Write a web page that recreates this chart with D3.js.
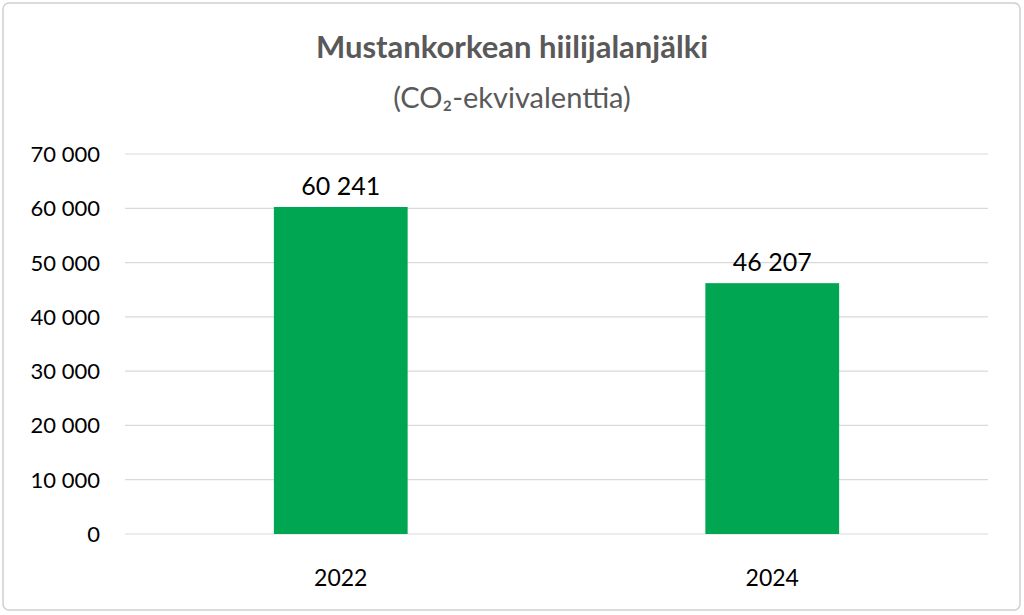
<!DOCTYPE html>
<html><head><meta charset="utf-8">
<script src="https://cdn.jsdelivr.net/npm/d3@7"></script>
<style>body{margin:0;background:#fff}</style>
</head><body>
<svg id="chart" width="1024" height="615"></svg>
<script>
const years = ["2022", "2024"];
const values = [60241, 46207];
const ticks = [0, 10000, 20000, 30000, 40000, 50000, 60000, 70000];

const svg = d3.select("#chart");
const font = "Lato, 'Open Sans', sans-serif";
const fmt = (v) => d3.format(",")(v).replace(/,/g, " ");

svg.append("rect")
  .attr("x", 3).attr("y", 3).attr("width", 1017).attr("height", 607)
  .attr("rx", 6).attr("fill", "#fff").attr("stroke", "#d0d0d0").attr("stroke-width", 1.5);

const x = d3.scaleBand().domain(years).range([125, 988]).paddingInner(0.69).paddingOuter(0.345);
const y = d3.scaleLinear().domain([0, 70000]).range([534, 154]);

svg.append("g").selectAll("line").data(ticks).join("line")
  .attr("x1", 125).attr("x2", 988)
  .attr("y1", (d) => y(d)).attr("y2", (d) => y(d))
  .attr("stroke", "#d9d9d9").attr("stroke-width", 1.2);

svg.append("g").selectAll("text").data(ticks).join("text")
  .attr("x", 100).attr("y", (d) => y(d) + 8)
  .attr("text-anchor", "end").attr("font-family", font).attr("font-size", 22)
  .attr("fill", "#000").text(fmt);

svg.append("g").selectAll("rect").data(values).join("rect")
  .attr("x", (d, i) => x(years[i])).attr("width", x.bandwidth())
  .attr("y", (d) => y(d)).attr("height", (d) => y(0) - y(d))
  .attr("fill", "#00a651");

svg.append("g").selectAll("text").data(values).join("text")
  .attr("x", (d, i) => x(years[i]) + x.bandwidth() / 2).attr("y", (d) => y(d) - 12)
  .attr("text-anchor", "middle").attr("font-family", font).attr("font-size", 25)
  .text(fmt);

svg.append("g").selectAll("text").data(years).join("text")
  .attr("x", (d) => x(d) + x.bandwidth() / 2).attr("y", 586)
  .attr("text-anchor", "middle").attr("font-family", font).attr("font-size", 23)
  .text((d) => d);

svg.append("text").attr("x", 512).attr("y", 58).attr("text-anchor", "middle")
  .attr("font-family", font).attr("font-weight", "bold").attr("font-size", 31)
  .attr("fill", "#595959").text("Mustankorkean hiilijalanjälki");
svg.append("text").attr("x", 512).attr("y", 108).attr("text-anchor", "middle")
  .attr("font-family", font).attr("font-size", 29)
  .attr("fill", "#595959").text("(CO₂-ekvivalenttia)");
</script>
</body></html>
